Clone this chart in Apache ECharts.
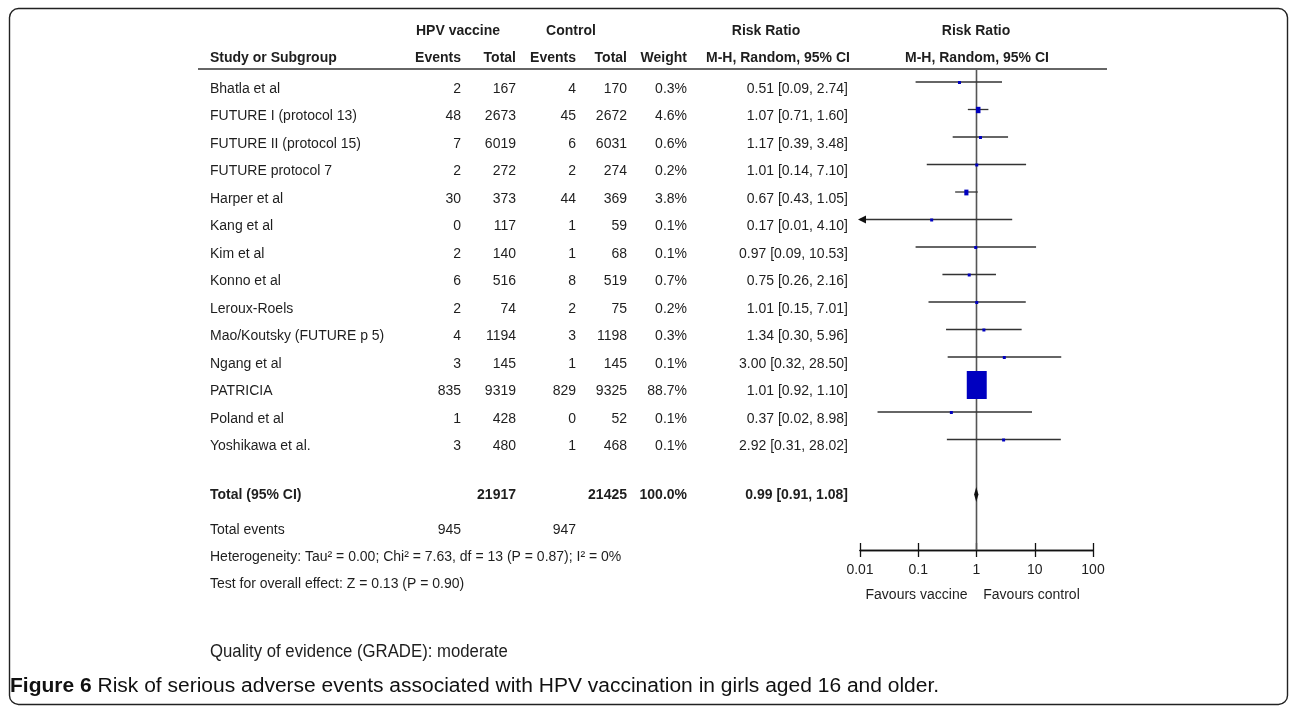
<!DOCTYPE html>
<html><head><meta charset="utf-8">
<script src="https://cdn.jsdelivr.net/npm/echarts@6/dist/echarts.min.js"></script>
<style>html,body{margin:0;padding:0;background:#fff}#c{width:1290px;height:706px}</style>
</head><body><div id="c"></div>
<script>
// ---- data ----
const studies = ['Bhatla et al','FUTURE I (protocol 13)','FUTURE II (protocol 15)','FUTURE protocol 7','Harper et al','Kang et al','Kim et al','Konno et al','Leroux-Roels','Mao/Koutsky (FUTURE p 5)','Ngang et al','PATRICIA','Poland et al','Yoshikawa et al.'];
const vacEvents = [2,48,7,2,30,0,2,6,2,4,3,835,1,3];
const vacTotal  = [167,2673,6019,272,373,117,140,516,74,1194,145,9319,428,480];
const ctlEvents = [4,45,6,2,44,1,1,8,2,3,1,829,0,1];
const ctlTotal  = [170,2672,6031,274,369,59,68,519,75,1198,145,9325,52,468];
const weights   = [0.3,4.6,0.6,0.2,3.8,0.1,0.1,0.7,0.2,0.3,0.1,88.7,0.1,0.1];
const rr        = [0.51,1.07,1.17,1.01,0.67,0.17,0.97,0.75,1.01,1.34,3.00,1.01,0.37,2.92];
const rrLow     = [0.09,0.71,0.39,0.14,0.43,0.01,0.09,0.26,0.15,0.30,0.32,0.92,0.02,0.31];
const rrHigh    = [2.74,1.60,3.48,7.10,1.05,4.10,10.53,2.16,7.01,5.96,28.50,1.10,8.98,28.02];
const totalVacN = 21917, totalCtlN = 21425, totalWeight = '100.0%';
const totalVacEv = 945, totalCtlEv = 947;
const pooled = [0.99, 0.91, 1.08];
const heterogeneity = 'Heterogeneity: Tau\u00b2 = 0.00; Chi\u00b2 = 7.63, df = 13 (P = 0.87); I\u00b2 = 0%';
const overall = 'Test for overall effect: Z = 0.13 (P = 0.90)';
const tickValues = [0.01, 0.1, 1, 10, 100];
const favours = ['Favours vaccine', 'Favours control'];
const quality = 'Quality of evidence (GRADE): moderate';
const captionBold = 'Figure 6';
const captionText = ' Risk of serious adverse events associated with HPV vaccination in girls aged 16 and older.';

// ---- layout ----
const X_MIN = tickValues[0], X_MAX = tickValues[tickValues.length-1];
const ROW0 = 89, ROWH = 27.5, PLOT_OFF = 7;
const FAM = "'Liberation Sans', Arial, sans-serif";
const FONT = "14px " + FAM;
const BFONT = "bold 14px " + FAM;
const TXT = '#1e1e1e';
const cols = {name:210, vEv:461, vTot:516, cEv:576, cTot:627, w:687, rr:848};
const fmt2 = v => v.toFixed(2);
const rrText = (m,l,h) => fmt2(m) + ' [' + fmt2(l) + ', ' + fmt2(h) + ']';

const g = [];
function t(text, x, y, align, font, extra) {
  g.push(Object.assign({type:'text', x:x, y:y, silent:true,
    style:{text:text, fill:TXT, font:font||FONT, textAlign:align||'left', textVerticalAlign:'middle'}}, extra||{}));
}
// border
g.push({type:'rect', shape:{x:9.5, y:8.5, width:1278, height:696, r:9}, style:{fill:null, stroke:'#222', lineWidth:1.4}, silent:true});
// headers
t('HPV vaccine', 458, 31, 'center', BFONT);
t('Control', 571, 31, 'center', BFONT);
t('Risk Ratio', 766, 31, 'center', BFONT);
t('Risk Ratio', 976, 31, 'center', BFONT);
t('Study or Subgroup', cols.name, 58, 'left', BFONT);
t('Events', cols.vEv, 58, 'right', BFONT);
t('Total', cols.vTot, 58, 'right', BFONT);
t('Events', cols.cEv, 58, 'right', BFONT);
t('Total', cols.cTot, 58, 'right', BFONT);
t('Weight', cols.w, 58, 'right', BFONT);
t('M-H, Random, 95% CI', 778, 58, 'center', BFONT);
t('M-H, Random, 95% CI', 977, 58, 'center', BFONT);
g.push({type:'line', shape:{x1:198, y1:69, x2:1107, y2:69}, style:{stroke:'#666', lineWidth:2}, silent:true});
// rows
studies.forEach((s,i)=>{
  const y = ROW0 + ROWH*i;
  t(s, cols.name, y);
  t(String(vacEvents[i]), cols.vEv, y, 'right');
  t(String(vacTotal[i]), cols.vTot, y, 'right');
  t(String(ctlEvents[i]), cols.cEv, y, 'right');
  t(String(ctlTotal[i]), cols.cTot, y, 'right');
  t(weights[i].toFixed(1)+'%', cols.w, y, 'right');
  t(rrText(rr[i], rrLow[i], rrHigh[i]), cols.rr, y, 'right');
});
// totals
t('Total (95% CI)', cols.name, 495, 'left', BFONT);
t(String(totalVacN), cols.vTot, 495, 'right', BFONT);
t(String(totalCtlN), cols.cTot, 495, 'right', BFONT);
t(totalWeight, cols.w, 495, 'right', BFONT);
t(rrText(pooled[0], pooled[1], pooled[2]), cols.rr, 495, 'right', BFONT);
t('Total events', cols.name, 530);
t(String(totalVacEv), cols.vEv, 530, 'right');
t(String(totalCtlEv), cols.cEv, 530, 'right');
t(heterogeneity, cols.name, 557);
t(overall, cols.name, 584);
t(favours[0], 916.5, 595, 'center');
t(favours[1], 1031.5, 595, 'center');
t(quality, 210, 652, 'left', "18px " + FAM, {scaleX:0.93});
g.push({type:'text', x:10, y:686, silent:true, scaleX:1.05, style:{
  text:'{b|'+captionBold+'}{r|'+captionText+'}', textVerticalAlign:'middle', fill:'#111',
  rich:{b:{font:"bold 20px " + FAM, fill:'#111'},
        r:{font:"20px " + FAM, fill:'#111'}}}});

// ---- chart ----
const yTop = (70 - (ROW0-PLOT_OFF)) / ROWH;
const yBot = (550 - (ROW0-PLOT_OFF)) / ROWH;
const studyData = studies.map((s,i)=>[rr[i], i, rrLow[i], rrHigh[i], weights[i]]);
const tickStyle = {color:'#111', width:1.3};
const axisBase = {type:'log', logBase:10, min:X_MIN, max:X_MAX, gridIndex:0,
  splitLine:{show:false}, axisLine:{show:true, onZero:false, lineStyle:tickStyle}};
const chart = echarts.init(document.getElementById('c'), null, {renderer:'canvas'});
chart.setOption({
  animation:false,
  grid:{left:860, width:233, top:70, height:480},
  xAxis:[
    Object.assign({}, axisBase, {position:'bottom', axisTick:{show:true, length:7, lineStyle:tickStyle},
      axisLabel:{show:true, margin:13, fontSize:14, color:TXT, fontFamily:FAM,
        formatter:v=>String(+Number(v).toPrecision(3))}}),
    Object.assign({}, axisBase, {position:'top', offset:-480, axisTick:{show:true, length:7, lineStyle:tickStyle},
      axisLabel:{show:false}})
  ],
  yAxis:{type:'value', inverse:true, min:yTop, max:yBot, show:false, splitLine:{show:false}},
  series:[
    {type:'line', silent:true, xAxisIndex:0, data:[[1,yTop],[1,yBot]], symbol:'none',
      lineStyle:{color:'#555', width:1.6}, z:1},
    {type:'custom', xAxisIndex:0, silent:true, z:3, data:studyData,
      renderItem:(p, api)=>{
        const m=api.value(0), i=api.value(1), l=api.value(2), h=api.value(3), w=api.value(4);
        const pm=api.coord([m,i]), pl=api.coord([Math.max(l,X_MIN),i]), ph=api.coord([Math.min(h,X_MAX),i]);
        const bw=Math.max(3, 2.12*Math.sqrt(w)), bh=Math.max(3, 2.97*Math.sqrt(w));
        const ch=[
          {type:'line', shape:{x1:pl[0], y1:pl[1], x2:ph[0], y2:ph[1]}, style:{stroke:'#333', lineWidth:1.3}},
          {type:'rect', shape:{x:pm[0]-bw/2, y:pm[1]-bh/2+0.5, width:bw, height:bh}, style:{fill:'#0000C0'}}
        ];
        if (l <= X_MIN) ch.push({type:'polygon', shape:{points:[[pl[0]-2,pl[1]],[pl[0]+6,pl[1]-4],[pl[0]+6,pl[1]+4]]}, style:{fill:'#111'}});
        return {type:'group', children:ch};
      }},
    {type:'custom', xAxisIndex:0, silent:true, z:4, data:[[pooled[0], studies.length+1, pooled[1], pooled[2]]],
      renderItem:(p, api)=>{
        const m=api.value(0), i=api.value(1), l=api.value(2), h=api.value(3);
        const pm=api.coord([m,i]), pl=api.coord([l,i]), ph=api.coord([h,i]);
        return {type:'polygon', shape:{points:[[pl[0],pm[1]],[pm[0],pm[1]-7.5],[ph[0],pm[1]],[pm[0],pm[1]+7.5]]}, style:{fill:'#111'}};
      }}
  ],
  graphic:g
});
</script></body></html>
